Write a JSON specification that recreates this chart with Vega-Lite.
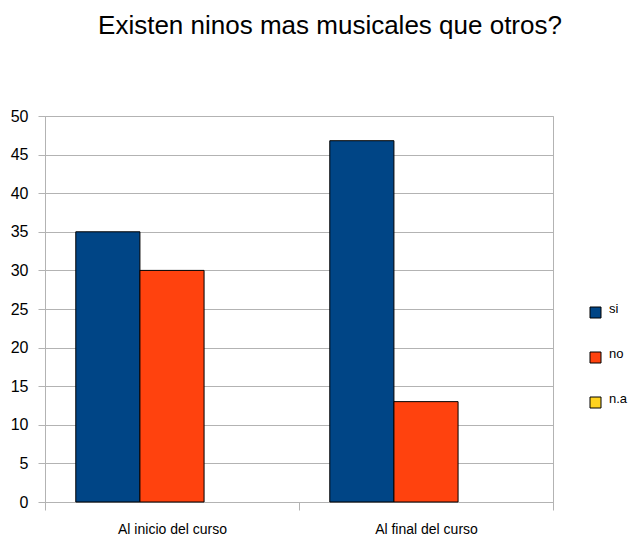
{
  "$schema": "https://vega.github.io/schema/vega-lite/v6.json",
  "width": 508,
  "height": 386,
  "autosize": {"type": "none"},
  "padding": {"left": 45, "top": 116, "right": 76, "bottom": 38},
  "background": "white",
  "title": {
    "text": "Existen ninos mas musicales que otros?",
    "font": "Liberation Sans",
    "fontSize": 26,
    "fontWeight": "normal",
    "color": "black",
    "anchor": "middle",
    "offset": 69,
    "dx": 31
  },
  "data": {
    "values": [
      {"grupo": "Al inicio del curso", "respuesta": "si", "valor": 35},
      {"grupo": "Al inicio del curso", "respuesta": "no", "valor": 30},
      {"grupo": "Al final del curso", "respuesta": "si", "valor": 46.8},
      {"grupo": "Al final del curso", "respuesta": "no", "valor": 13}
    ]
  },
  "config": {
    "view": {"stroke": "#b3b3b3", "strokeWidth": 1},
    "axis": {"labelFont": "Liberation Sans", "labelColor": "black", "domainColor": "#b3b3b3", "tickColor": "#b3b3b3", "gridColor": "#b3b3b3", "titleFont": "Liberation Sans"}
  },
  "mark": {"type": "bar", "stroke": "black", "strokeWidth": 1},
  "encoding": {
    "x": {
      "field": "grupo",
      "type": "nominal",
      "sort": ["Al inicio del curso", "Al final del curso"],
      "scale": {"paddingInner": 0, "paddingOuter": 0},
      "axis": {"title": null, "labelAngle": 0, "labelFontSize": 14, "tickBand": "extent", "tickSize": 8, "labelPadding": 12, "grid": false}
    },
    "xOffset": {
      "field": "respuesta",
      "type": "nominal",
      "sort": ["si", "no", "n.a"],
      "scale": {"domain": ["si", "no", "n.a"], "paddingInner": 0, "paddingOuter": 0.48}
    },
    "y": {
      "field": "valor",
      "type": "quantitative",
      "scale": {"domain": [0, 50]},
      "axis": {"title": null, "values": [0, 5, 10, 15, 20, 25, 30, 35, 40, 45, 50], "labelFontSize": 16, "tickSize": 7, "labelPadding": 10, "domain": true, "grid": true}
    },
    "color": {
      "field": "respuesta",
      "type": "nominal",
      "sort": ["si", "no", "n.a"],
      "scale": {"domain": ["si", "no", "n.a"], "range": ["#004586", "#ff420e", "#ffd320"]},
      "legend": {
        "title": null,
        "orient": "none",
        "legendX": 544,
        "legendY": 190,
        "symbolType": "square",
        "symbolSize": 121,
        "symbolStrokeColor": "black",
        "symbolStrokeWidth": 1,
        "symbolOpacity": 1,
        "labelFont": "Liberation Sans",
        "labelFontSize": 13,
        "labelColor": "black",
        "labelBaseline": "alphabetic",
        "labelOffset": 7,
        "rowPadding": 27
      }
    }
  }
}
